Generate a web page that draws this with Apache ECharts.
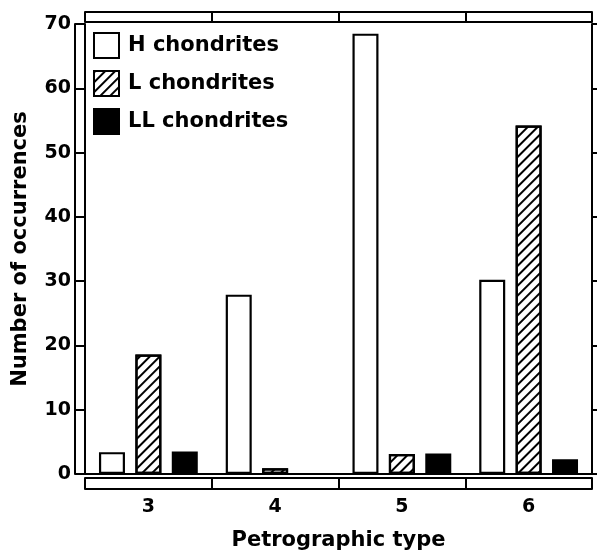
<!DOCTYPE html>
<html lang="en">
  <head>
    <meta charset="UTF-8" />
    <title>Petrographic type</title>
    <script src="https://cdn.jsdelivr.net/npm/echarts@6/dist/echarts.min.js"></script>
    <style>
      body { margin: 0; background: #fff; }
    </style>
  </head>
  <body>
    <div id="main" style="width: 597px; height: 556px"></div>
    <script type="text/javascript">
      // petrographic types on the x axis
      const types = ["3", "4", "5", "6"];
      // number of occurrences per chondrite group
      const hChondrites = [3.4, 27.9, 68.5, 30.2];
      const lChondrites = [18.6, 0.9, 3.1, 54.2];
      const llChondrites = [3.5, 0, 3.2, 2.3];

      const font = "DejaVu Sans";
      const line = { lineStyle: { color: "#000", width: 2 } };

      // bare category axis used to build the double-line frame
      function catAxis(position, offset, extra) {
        return Object.assign(
          {
            type: "category",
            data: types,
            position: position,
            offset: offset,
            axisLine: Object.assign({ show: true, onZero: false }, line),
            axisTick: { show: false },
            axisLabel: { show: false },
            splitLine: { show: false },
          },
          extra || {}
        );
      }
      function valAxis(position, offset, extra) {
        return Object.assign(
          {
            type: "value",
            min: 0,
            max: 70,
            interval: 10,
            position: position,
            offset: offset,
            axisLine: Object.assign({ show: true }, line),
            axisTick: { show: false },
            axisLabel: { show: false },
            splitLine: { show: false },
          },
          extra || {}
        );
      }

      const barBase = { color: "#fff", borderColor: "#000", borderWidth: 2.2 };

      let options = {
        animation: false,
        backgroundColor: "#fff",
        grid: { left: 85, right: 5, top: 24, bottom: 78 },
        legend: {
          orient: "vertical",
          left: 93,
          top: 32,
          padding: 0,
          icon: "rect",
          itemWidth: 25,
          itemHeight: 25,
          itemGap: 11,
          textStyle: {
            fontFamily: font,
            fontWeight: "bold",
            fontSize: 21,
            color: "#000",
            padding: [0, 0, 0, 4],
          },
          data: ["H chondrites", "L chondrites", "LL chondrites"],
        },
        xAxis: [
          catAxis("bottom", 0),
          catAxis("bottom", 4, {
            axisTick: { show: true, length: 11, lineStyle: { color: "#000", width: 2 } },
            axisLabel: {
              show: true,
              margin: 20,
              fontFamily: font,
              fontWeight: "bold",
              fontSize: 19,
              color: "#000",
            },
            name: "Petrographic type",
            nameLocation: "middle",
            nameGap: 52,
            nameTextStyle: {
              fontFamily: font,
              fontWeight: "bold",
              fontSize: 21,
              color: "#000",
            },
          }),
          catAxis("bottom", 15),
          catAxis("top", 2, {
            axisTick: { show: true, length: 10, lineStyle: { color: "#000", width: 2 } },
          }),
          catAxis("top", 12),
        ],
        yAxis: [
          valAxis("left", 0, {
            axisTick: { show: true, length: 10, lineStyle: { color: "#000", width: 2 } },
          }),
          valAxis("left", 10, {
            axisLabel: {
              show: true,
              margin: 4,
              fontFamily: font,
              fontWeight: "bold",
              fontSize: 19,
              color: "#000",
            },
            name: "Number of occurrences",
            nameLocation: "middle",
            nameGap: 44,
            nameTextStyle: {
              fontFamily: font,
              fontWeight: "bold",
              fontSize: 21,
              color: "#000",
            },
          }),
          valAxis("right", 0, {
            axisTick: { show: true, length: 5, lineStyle: { color: "#000", width: 2 } },
          }),
        ],
        series: [
          {
            name: "H chondrites",
            type: "bar",
            barWidth: 26,
            barGap: "40%",
            data: hChondrites,
            itemStyle: Object.assign({}, barBase),
          },
          {
            name: "L chondrites",
            type: "bar",
            barWidth: 26,
            barGap: "40%",
            data: lChondrites,
            itemStyle: Object.assign({}, barBase, {
              decal: {
                symbol: "rect",
                symbolSize: 1,
                dashArrayX: [1, 0],
                dashArrayY: [2, 4.5],
                rotation: -Math.PI / 4,
                color: "#000",
              },
            }),
          },
          {
            name: "LL chondrites",
            type: "bar",
            barWidth: 26,
            barGap: "40%",
            data: llChondrites,
            itemStyle: Object.assign({}, barBase, { color: "#000" }),
          },
        ],
      };

      let myChart = echarts.init(document.getElementById("main"));
      myChart.setOption(options);
    </script>
  </body>
</html>
